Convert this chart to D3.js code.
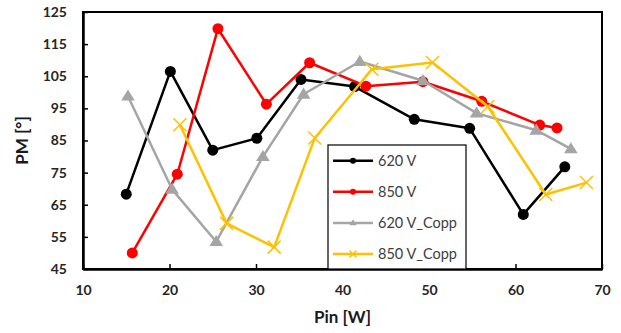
<!DOCTYPE html>
<html>
<head>
<meta charset="utf-8">
<script src="https://cdn.jsdelivr.net/npm/d3@7"></script>
<style>
  body { margin: 0; background: #fff; }
  svg text { font-family: Lato, "Open Sans", sans-serif; }
</style>
</head>
<body>
<div id="chart"></div>
<script>
// data
const seriesNames = ['620 V', '850 V', '620 V_Copp', '850 V_Copp'];

const pin620 = [15.0, 20.1, 25.0, 30.1, 35.2, 41.4, 48.3, 54.7, 60.9, 65.7];
const pm620 = [68.3, 106.5, 82.0, 85.7, 104.0, 101.8, 91.6, 88.8, 62.0, 76.8];

const pin850 = [15.7, 20.9, 25.6, 31.2, 36.2, 42.7, 49.3, 56.1, 62.8, 64.8];
const pm850 = [50.0, 74.5, 119.8, 96.3, 109.2, 101.9, 103.3, 97.2, 89.8, 88.9];

const pin620c = [15.2, 20.3, 25.4, 30.8, 35.5, 42.0, 49.3, 55.5, 62.4, 66.4];
const pm620c = [98.8, 69.8, 53.5, 80.0, 99.4, 109.6, 103.6, 93.5, 88.2, 82.4];

const pin850c = [21.2, 26.6, 32.1, 36.8, 43.4, 50.4, 56.8, 63.5, 68.2];
const pm850c = [89.9, 59.2, 51.8, 85.8, 107.2, 109.3, 95.6, 68.2, 71.9];

const xTicks = [10, 20, 30, 40, 50, 60, 70];
const yTicks = [45, 55, 65, 75, 85, 95, 105, 115, 125];

const width = 621, height = 333;
const margins = { top: 12, right: 19, bottom: 64, left: 83 };

const svg = d3.select('#chart').append('svg')
    .attr('width', width)
    .attr('height', height);

const xScale = d3.scaleLinear().domain([10, 70]).range([margins.left, width - margins.right]);
const yScale = d3.scaleLinear().domain([45, 125]).range([height - margins.bottom, margins.top]);

// frame
svg.append('rect')
    .attr('x', xScale(10)).attr('y', yScale(125))
    .attr('width', xScale(70) - xScale(10))
    .attr('height', yScale(45) - yScale(125))
    .attr('fill', 'none')
    .attr('stroke', '#000')
    .attr('stroke-width', 2);

// axes with inward ticks
const yAxis = svg.append('g')
    .attr('transform', `translate(${xScale(10)},0)`)
    .call(d3.axisLeft(yScale).tickValues(yTicks).tickSizeInner(-5).tickSizeOuter(0).tickPadding(16));

const xAxis = svg.append('g')
    .attr('transform', `translate(0,${yScale(45)})`)
    .call(d3.axisBottom(xScale).tickValues(xTicks).tickSizeInner(-5).tickSizeOuter(0).tickPadding(16));

[xAxis, yAxis].forEach(g => {
    g.select('.domain').attr('stroke-width', 2.5);
    g.selectAll('.tick line').attr('stroke-width', 1.5);
    g.selectAll('.tick text')
        .attr('font-size', 14)
        .attr('font-weight', 'bold')
        .attr('fill', '#262626');
});

// axis titles
svg.append('text')
    .attr('x', (xScale(10) + xScale(70)) / 2)
    .attr('y', 323)
    .attr('text-anchor', 'middle')
    .attr('font-size', 17)
    .attr('font-weight', 'bold')
    .attr('fill', '#1a1a1a')
    .text('Pin [W]');

svg.append('text')
    .attr('transform', `translate(28,${(yScale(45) + yScale(125)) / 2}) rotate(-90)`)
    .attr('text-anchor', 'middle')
    .attr('font-size', 17)
    .attr('font-weight', 'bold')
    .attr('fill', '#1a1a1a')
    .text('PM [°]');

const series = [
    { name: seriesNames[0], xs: pin620, ys: pm620, color: '#000000', marker: 'circle' },
    { name: seriesNames[1], xs: pin850, ys: pm850, color: '#ff0000', marker: 'circle' },
    { name: seriesNames[2], xs: pin620c, ys: pm620c, color: '#a5a5a5', marker: 'triangle' },
    { name: seriesNames[3], xs: pin850c, ys: pm850c, color: '#ffc000', marker: 'cross' }
];

const lineGenerator = d3.line()
    .x(d => xScale(d[0]))
    .y(d => yScale(d[1]));

function drawMarker(g, type, cx, cy, color, s) {
    if (type === 'circle') {
        g.append('circle').attr('cx', cx).attr('cy', cy).attr('r', s).attr('fill', color);
    } else if (type === 'triangle') {
        const h = s * 1.7;
        g.append('path')
            .attr('d', `M${cx},${cy - h * 0.6}L${cx + s * 1.05},${cy + h * 0.4}L${cx - s * 1.05},${cy + h * 0.4}Z`)
            .attr('fill', color);
    } else {
        g.append('path')
            .attr('d', `M${cx - s},${cy - s}L${cx + s},${cy + s}M${cx - s},${cy + s}L${cx + s},${cy - s}`)
            .attr('stroke', color)
            .attr('stroke-width', 1.5)
            .attr('fill', 'none');
    }
}

const plotGroup = svg.append('g');
series.forEach(s => {
    const pts = s.xs.map((x, i) => [x, s.ys[i]]);
    plotGroup.append('path')
        .datum(pts)
        .attr('fill', 'none')
        .attr('stroke', s.color)
        .attr('stroke-width', 2.5)
        .attr('stroke-linejoin', 'round')
        .attr('d', lineGenerator);
    const mg = plotGroup.append('g');
    pts.forEach(p => {
        const size = s.marker === 'circle' ? 5.5 : (s.marker === 'triangle' ? 6.5 : 6.5);
        drawMarker(mg, s.marker, xScale(p[0]), yScale(p[1]), s.color, size);
    });
});

// legend
const legend = svg.append('g');
const lx0 = 328, ly0 = 145, lx1 = 466, ly1 = yScale(45);
legend.append('rect')
    .attr('x', lx0).attr('y', ly0)
    .attr('width', lx1 - lx0).attr('height', ly1 - ly0)
    .attr('fill', '#fff')
    .attr('stroke', '#000')
    .attr('stroke-width', 1.2);

series.forEach((s, i) => {
    const yy = 160.7 + i * 31.1;
    legend.append('line')
        .attr('x1', 333).attr('x2', 373)
        .attr('y1', yy).attr('y2', yy)
        .attr('stroke', s.color)
        .attr('stroke-width', 2.5);
    drawMarker(legend, s.marker, 353, yy, s.color, s.marker === 'circle' ? 3 : 3.5);
    legend.append('text')
        .attr('x', 378).attr('y', yy)
        .attr('dy', '0.35em')
        .attr('font-size', 14.5)
        .attr('fill', '#404040')
        .text(s.name);
});
</script>
</body>
</html>
